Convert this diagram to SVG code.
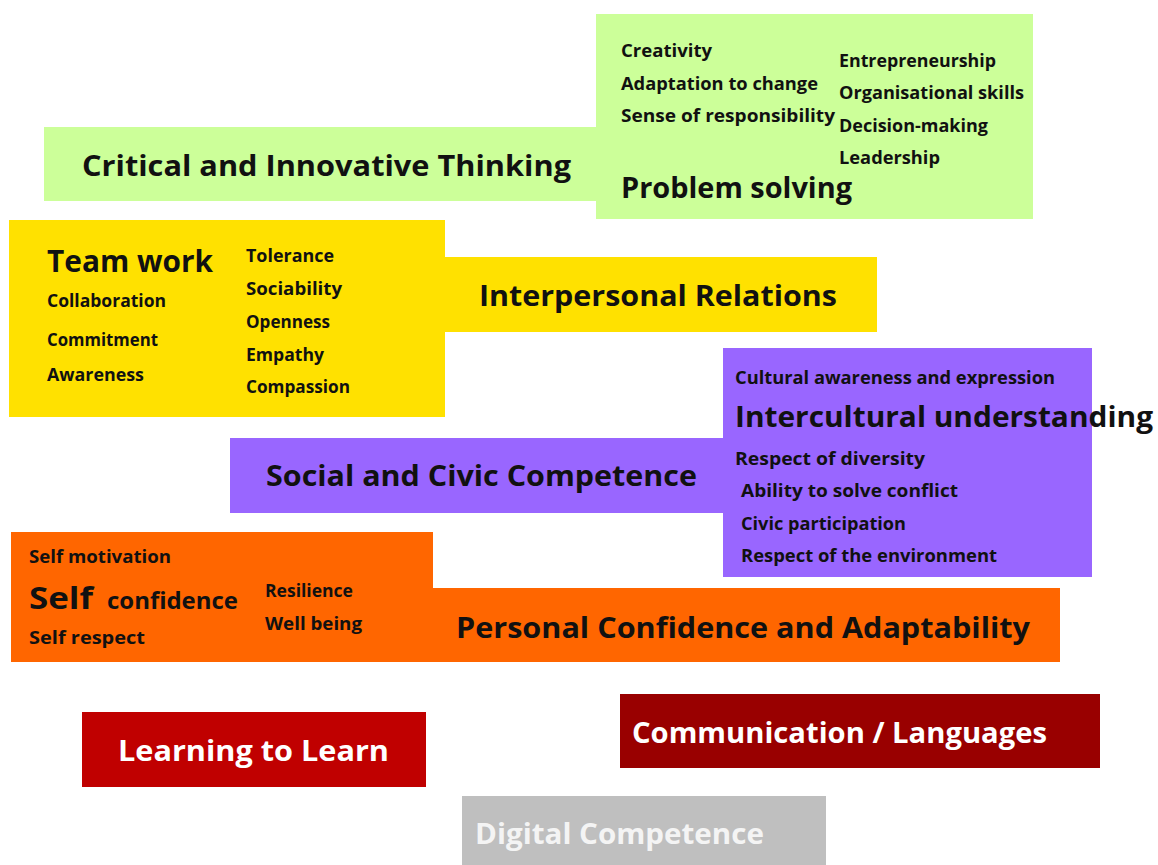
<svg xmlns="http://www.w3.org/2000/svg" width="1158" height="865" viewBox="0 0 1158 865">
<style>
text{font-family:"Open Sans","DejaVu Sans",sans-serif;font-weight:bold;fill:#111}
.b{font-size:29px}
.s{font-size:18px}
.w{fill:#ffffff}
.g{fill:#ccff99}.y{fill:#ffe100}.p{fill:#9966ff}.o{fill:#ff6600}
</style>
<rect width="1158" height="865" fill="#ffffff"/>
<g id="connectors"/>
<g id="critical-thinking">
<rect class="g" x="44" y="127" width="556" height="74"/>
<rect class="g" x="596" y="14" width="437" height="205"/>
<text class="b" x="82" y="176" textLength="489" lengthAdjust="spacingAndGlyphs">Critical and Innovative Thinking</text>
<text class="s" x="621" y="57" textLength="91" lengthAdjust="spacingAndGlyphs">Creativity</text>
<text class="s" x="621" y="90" textLength="197" lengthAdjust="spacingAndGlyphs">Adaptation to change</text>
<text class="s" x="621" y="122" textLength="214" lengthAdjust="spacingAndGlyphs">Sense of responsibility</text>
<text class="s" x="839" y="67" textLength="157" lengthAdjust="spacingAndGlyphs">Entrepreneurship</text>
<text class="s" x="839" y="99" textLength="185" lengthAdjust="spacingAndGlyphs">Organisational skills</text>
<text class="s" x="839" y="132" textLength="149" lengthAdjust="spacingAndGlyphs">Decision-making</text>
<text class="s" x="839" y="164" textLength="101" lengthAdjust="spacingAndGlyphs">Leadership</text>
<text class="b" x="621" y="198" textLength="231" lengthAdjust="spacingAndGlyphs">Problem solving</text>
</g>
<g id="interpersonal">
<rect class="y" x="9" y="220" width="436" height="197"/>
<rect class="y" x="440" y="257" width="437" height="75"/>
<text x="47" y="272" font-size="31" textLength="166" lengthAdjust="spacingAndGlyphs">Team work</text>
<text class="s" x="47" y="307" textLength="119" lengthAdjust="spacingAndGlyphs">Collaboration</text>
<text class="s" x="47" y="346" textLength="111" lengthAdjust="spacingAndGlyphs">Commitment</text>
<text class="s" x="47" y="381" textLength="97" lengthAdjust="spacingAndGlyphs">Awareness</text>
<text class="s" x="246" y="262" textLength="88" lengthAdjust="spacingAndGlyphs">Tolerance</text>
<text class="s" x="246" y="295" textLength="96" lengthAdjust="spacingAndGlyphs">Sociability</text>
<text class="s" x="246" y="328" textLength="84" lengthAdjust="spacingAndGlyphs">Openness</text>
<text class="s" x="246" y="361" textLength="78" lengthAdjust="spacingAndGlyphs">Empathy</text>
<text class="s" x="246" y="393" textLength="104" lengthAdjust="spacingAndGlyphs">Compassion</text>
<text class="b" x="479" y="306" textLength="358" lengthAdjust="spacingAndGlyphs">Interpersonal Relations</text>
</g>
<g id="social-civic">
<rect class="p" x="723" y="348" width="369" height="229"/>
<rect class="p" x="230" y="438" width="495" height="75"/>
<text class="b" x="266" y="486" textLength="431" lengthAdjust="spacingAndGlyphs">Social and Civic Competence</text>
<text x="735" y="384" font-size="17" textLength="320" lengthAdjust="spacingAndGlyphs">Cultural awareness and expression</text>
<text class="b" x="735" y="427" textLength="418" lengthAdjust="spacingAndGlyphs">Intercultural understanding</text>
<text class="s" x="735" y="465" textLength="190" lengthAdjust="spacingAndGlyphs">Respect of diversity</text>
<text class="s" x="741" y="497" textLength="217" lengthAdjust="spacingAndGlyphs">Ability to solve conflict</text>
<text class="s" x="741" y="530" textLength="165" lengthAdjust="spacingAndGlyphs">Civic participation</text>
<text class="s" x="741" y="562" textLength="256" lengthAdjust="spacingAndGlyphs">Respect of the environment</text>
</g>
<g id="personal-confidence">
<rect class="o" x="11" y="532" width="422" height="130"/>
<rect class="o" x="425" y="588" width="635" height="74"/>
<text class="s" x="29" y="563" textLength="142" lengthAdjust="spacingAndGlyphs">Self motivation</text>
<text x="29" y="609" font-size="30" textLength="64" lengthAdjust="spacingAndGlyphs">Self</text>
<text x="107" y="609" font-size="24" textLength="131" lengthAdjust="spacingAndGlyphs">confidence</text>
<text class="s" x="29" y="644" textLength="116" lengthAdjust="spacingAndGlyphs">Self respect</text>
<text class="s" x="265" y="597" textLength="88" lengthAdjust="spacingAndGlyphs">Resilience</text>
<text class="s" x="265" y="630" textLength="97" lengthAdjust="spacingAndGlyphs">Well being</text>
<text class="b" x="456" y="638" textLength="574" lengthAdjust="spacingAndGlyphs">Personal Confidence and Adaptability</text>
</g>
<g id="learning-to-learn">
<rect x="82" y="712" width="344" height="75" fill="#c00000"/>
<text class="b w" x="118" y="761" textLength="271" lengthAdjust="spacingAndGlyphs">Learning to Learn</text>
</g>
<g id="communication">
<rect x="620" y="694" width="480" height="74" fill="#990000"/>
<text class="b w" x="632" y="743" textLength="415" lengthAdjust="spacingAndGlyphs">Communication / Languages</text>
</g>
<g id="digital">
<rect x="462" y="796" width="364" height="69" fill="#bfbfbf"/>
<text class="b" x="475" y="844" style="fill:#f4f4f4" textLength="289" lengthAdjust="spacingAndGlyphs">Digital Competence</text>
</g>
</svg>
